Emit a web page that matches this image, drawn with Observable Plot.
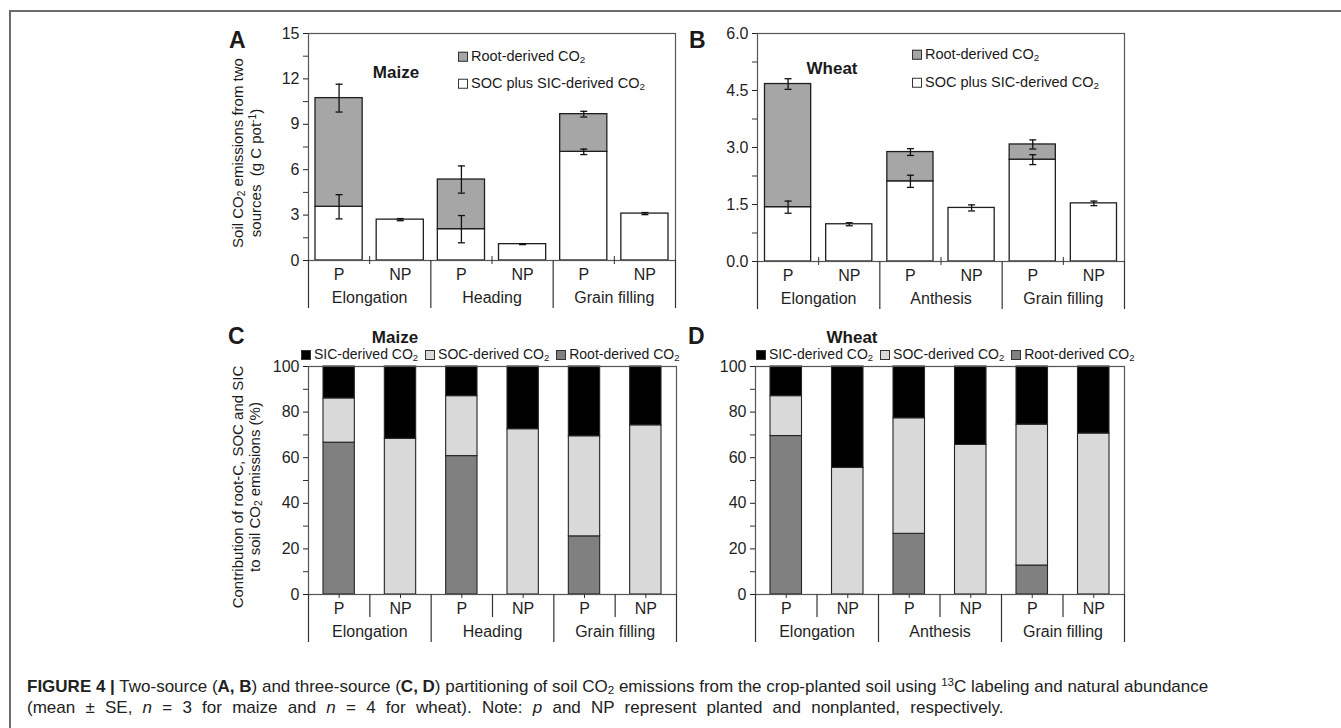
<!DOCTYPE html>
<html><head><meta charset="utf-8">
<script src="https://cdn.jsdelivr.net/npm/d3@7"></script>
<script src="https://cdn.jsdelivr.net/npm/@observablehq/plot@0.6"></script>
<style>
body{margin:0;background:#fff;font-family:"Liberation Sans",Arial,sans-serif;color:#1a1a1a}
#fig{position:relative;width:1341px;height:728px;overflow:hidden;background:#fff}
#border{position:absolute;left:9px;top:10px;width:1400px;height:800px;border-top:2px solid #6b6b6b;border-left:2px solid #6b6b6b}
.abs{position:absolute;white-space:nowrap;line-height:1}
.letter{font-weight:bold;font-size:23px;transform:translateY(-50%)}
.crop{font-weight:bold;font-size:17px;transform:translate(-50%,-50%)}
.ytitle{font-size:15px;transform:translate(-50%,-50%) rotate(-90deg)}
.leg{font-size:14.5px;transform:translateY(-50%)}
.leg2{font-size:14px;transform:translateY(-50%);display:flex;gap:7px;align-items:center}
.sw{display:inline-block;width:8px;height:8px;border:1px solid #333;margin-right:3px;vertical-align:-1px}
sub{font-size:0.68em;vertical-align:-0.22em;line-height:0}
sup{font-size:0.68em;vertical-align:0.45em;line-height:0}
.cap{font-size:17px;color:#222;transform:translateY(-50%)}
</style>
</head><body>
<div id="fig"><div id="border"></div></div>
<script>
// ---------- data ----------
const treatments = ["P", "NP"];
const maizeStages = ["Elongation", "Heading", "Grain filling"];
const wheatStages = ["Elongation", "Anthesis", "Grain filling"];

// Two-source partitioning (g C pot-1); order: Elongation P, NP, stage2 P, NP, Grain filling P, NP
const maizeSocSic   = [3.55, 2.70, 2.07, 1.08, 7.18, 3.10];
const maizeSocSicSE = [0.80, 0.07, 0.90, 0.03, 0.18, 0.07];
const maizeRoot     = [7.18, 0, 3.28, 0, 2.49, 0];
const maizeTotalSE  = [0.92, 0, 0.90, 0, 0.19, 0];

const wheatSocSic   = [1.43, 0.98, 2.11, 1.41, 2.68, 1.53];
const wheatSocSicSE = [0.16, 0.04, 0.16, 0.08, 0.13, 0.06];
const wheatRoot     = [3.24, 0, 0.77, 0, 0.40, 0];
const wheatTotalSE  = [0.14, 0, 0.09, 0, 0.12, 0];

// Three-source partitioning (%)
const maizeRootPct = [66.6, 0, 60.7, 0, 25.5, 0];
const maizeSocPct  = [19.4, 68.3, 26.3, 72.5, 43.9, 74.2];
const maizeSicPct  = [14.0, 31.7, 13.0, 27.5, 30.6, 25.8];
const wheatRootPct = [69.5, 0, 26.6, 0, 12.7, 0];
const wheatSocPct  = [17.5, 55.5, 50.7, 65.6, 61.8, 70.6];
const wheatSicPct  = [13.0, 44.5, 22.7, 34.4, 25.5, 29.4];

const yTicksA = [0, 3, 6, 9, 12, 15];
const yTicksB = [0, 1.5, 3, 4.5, 6];
const yTicksPct = [0, 20, 40, 60, 80, 100];

// ---------- helpers ----------
const fig = document.getElementById("fig");
const ML = 60, MR = 10, MT = 10, MB = 60;
const INK = "#1f1f1f";
const hline = {draw(ctx, size) { const w = Math.sqrt(size / Math.PI); ctx.moveTo(-w, 0); ctx.lineTo(w, 0); }};

function minorsOf(t) { return t.slice(0, -1).map((v, k) => (v + t[k + 1]) / 2); }

function categoryMarks(stages, innerH, kind) {
  const slots = d3.range(6).map(i => ({i, trt: treatments[i % 2]}));
  const groups = stages.map((s, k) => ({k, s}));
  const m = [
    Plot.text(slots, {x: d => d.i + 0.5, text: "trt", frameAnchor: "bottom", dy: 19, fontSize: 16, fill: INK}),
    Plot.text(groups, {x: d => 2 * d.k + 1, text: "s", frameAnchor: "bottom", dy: 42, fontSize: 16, fill: INK}),
    Plot.ruleX([0, 2, 4, 6], {insetTop: innerH, insetBottom: -48, stroke: "#333", strokeWidth: 1.2})
  ];
  if (kind === "two") {
    m.push(Plot.ruleX([1, 3, 5], {insetTop: innerH - 4, insetBottom: -4, stroke: "#333"}));
  } else {
    m.push(Plot.ruleX([1, 3, 5], {insetTop: innerH, insetBottom: -23, stroke: "#333", strokeWidth: 1.2}));
    m.push(Plot.ruleX(d3.range(6).map(i => i + 0.5), {insetTop: innerH, insetBottom: -4, stroke: "#333"}));
  }
  return m;
}

function yAxisMarks(ticks, innerW) {
  return [Plot.ruleY(minorsOf(ticks), {insetLeft: -5, insetRight: innerW, stroke: "#333"})];
}

function place(svg, left, top) {
  svg.style.position = "absolute";
  svg.style.left = (left - ML) + "px";
  svg.style.top = (top - MT) + "px";
  svg.style.overflow = "visible";
  fig.appendChild(svg);
}

function twoSource(o) {
  const innerW = o.right - o.left, innerH = o.bottom - o.top;
  const idx = d3.range(6);
  const soc = idx.map(i => ({i, y1: 0, y2: o.soc[i]}));
  const root = idx.filter(i => o.root[i] > 0).map(i => ({i, y1: o.soc[i], y2: o.soc[i] + o.root[i]}));
  const errs = [];
  idx.forEach(i => {
    errs.push({i, y: o.soc[i], se: o.socSE[i]});
    if (o.root[i] > 0) errs.push({i, y: o.soc[i] + o.root[i], se: o.totSE[i]});
  });
  const caps = errs.flatMap(d => [{i: d.i, y: d.y - d.se}, {i: d.i, y: d.y + d.se}]);
  const svg = Plot.plot({
    width: ML + innerW + MR, height: MT + innerH + MB,
    marginLeft: ML, marginRight: MR, marginTop: MT, marginBottom: MB,
    style: {fontFamily: "Liberation Sans, Arial, sans-serif", fontSize: "16px", color: INK, background: "transparent"},
    x: {domain: [0, 6], axis: null},
    y: {domain: [0, o.ticks[o.ticks.length - 1]], ticks: o.ticks, tickFormat: o.fmt, tickSize: 5, tickPadding: 4, label: null},
    marks: [
      Plot.rectY(soc, {x1: d => d.i, x2: d => d.i + 1, y1: "y1", y2: "y2", fill: "white", stroke: INK, strokeWidth: 1.3, insetLeft: o.inset, insetRight: o.inset}),
      Plot.rectY(root, {x1: d => d.i, x2: d => d.i + 1, y1: "y1", y2: "y2", fill: "#a6a6a6", stroke: INK, strokeWidth: 1.3, insetLeft: o.inset, insetRight: o.inset}),
      Plot.ruleX(errs, {x: d => d.i + 0.5, y1: d => d.y - d.se, y2: d => d.y + d.se, stroke: "#111", strokeWidth: 1.3}),
      Plot.dot(caps, {x: d => d.i + 0.5, y: "y", symbol: hline, r: 3.5, stroke: "#111", strokeWidth: 1.3}),
      Plot.frame({stroke: "#555", strokeWidth: 1.2}),
      ...yAxisMarks(o.ticks, innerW),
      ...categoryMarks(o.stages, innerH, "two")
    ]
  });
  place(svg, o.left, o.top);
}

function threeSource(o) {
  const innerW = o.right - o.left, innerH = o.bottom - o.top;
  const idx = d3.range(6);
  const layers = [
    {vals: o.root, fill: "#808080", base: i => 0},
    {vals: o.socP, fill: "#d9d9d9", base: i => o.root[i]},
    {vals: o.sic, fill: "#000000", base: i => o.root[i] + o.socP[i]}
  ];
  const rects = layers.map(L => Plot.rectY(
    idx.filter(i => L.vals[i] > 0).map(i => ({i, y1: L.base(i), y2: L.base(i) + L.vals[i]})),
    {x1: d => d.i, x2: d => d.i + 1, y1: "y1", y2: "y2", fill: L.fill, stroke: "#262626", strokeWidth: 1.1, insetLeft: o.inset, insetRight: o.inset}
  ));
  const svg = Plot.plot({
    width: ML + innerW + MR, height: MT + innerH + MB,
    marginLeft: ML, marginRight: MR, marginTop: MT, marginBottom: MB,
    style: {fontFamily: "Liberation Sans, Arial, sans-serif", fontSize: "16px", color: INK, background: "transparent"},
    x: {domain: [0, 6], axis: null},
    y: {domain: [0, 100], ticks: yTicksPct, tickSize: 5, tickPadding: 4, label: null},
    marks: [
      ...rects,
      Plot.frame({stroke: "#555", strokeWidth: 1.2}),
      ...yAxisMarks(yTicksPct, innerW),
      ...categoryMarks(o.stages, innerH, "three")
    ]
  });
  place(svg, o.left, o.top);
}

// ---------- panels ----------
twoSource({stages: maizeStages, soc: maizeSocSic, socSE: maizeSocSicSE, root: maizeRoot, totSE: maizeTotalSE,
  ticks: yTicksA, fmt: d => d.toFixed(0), left: 308, right: 675, top: 33, bottom: 260, inset: 7});
twoSource({stages: wheatStages, soc: wheatSocSic, socSE: wheatSocSicSE, root: wheatRoot, totSE: wheatTotalSE,
  ticks: yTicksB, fmt: d => d.toFixed(1), left: 757, right: 1124, top: 33, bottom: 261, inset: 7.5});
threeSource({stages: maizeStages, root: maizeRootPct, socP: maizeSocPct, sic: maizeSicPct,
  left: 308, right: 676, top: 366, bottom: 594, inset: 15});
threeSource({stages: wheatStages, root: wheatRootPct, socP: wheatSocPct, sic: wheatSicPct,
  left: 755, right: 1124, top: 366, bottom: 594, inset: 15});

// ---------- text overlays ----------
const html = `
<div class="abs letter" style="left:229px;top:40px">A</div>
<div class="abs letter" style="left:689px;top:40px">B</div>
<div class="abs letter" style="left:228px;top:336px">C</div>
<div class="abs letter" style="left:688px;top:336px">D</div>

<div class="abs crop" style="left:396px;top:72px">Maize</div>
<div class="abs crop" style="left:832px;top:68px">Wheat</div>
<div class="abs crop" style="left:395px;top:337px">Maize</div>
<div class="abs crop" style="left:852px;top:337px">Wheat</div>

<div class="abs ytitle" style="left:237px;top:153px">Soil CO<sub>2</sub> emissions from two</div>
<div class="abs ytitle" style="left:255px;top:173px">sources&nbsp; (g C pot<sup>-1</sup>)</div>
<div class="abs ytitle" style="left:237px;top:487px">Contribution of root-C, SOC and SIC</div>
<div class="abs ytitle" style="left:254px;top:487px">to soil CO<sub>2</sub> emissions (%)</div>

<div class="abs leg" style="left:458px;top:56px"><span class="sw" style="background:#a6a6a6"></span>Root-derived CO<sub>2</sub></div>
<div class="abs leg" style="left:458px;top:83px"><span class="sw" style="background:#fff"></span>SOC plus SIC-derived CO<sub>2</sub></div>
<div class="abs leg" style="left:912px;top:54px"><span class="sw" style="background:#a6a6a6"></span>Root-derived CO<sub>2</sub></div>
<div class="abs leg" style="left:912px;top:82px"><span class="sw" style="background:#fff"></span>SOC plus SIC-derived CO<sub>2</sub></div>

<div class="abs leg2" style="left:301px;top:354px"><span><span class="sw" style="background:#000"></span>SIC-derived CO<sub>2</sub></span><span><span class="sw" style="background:#d9d9d9"></span>SOC-derived CO<sub>2</sub></span><span><span class="sw" style="background:#808080"></span>Root-derived CO<sub>2</sub></span></div>
<div class="abs leg2" style="left:756px;top:354px"><span><span class="sw" style="background:#000"></span>SIC-derived CO<sub>2</sub></span><span><span class="sw" style="background:#d9d9d9"></span>SOC-derived CO<sub>2</sub></span><span><span class="sw" style="background:#808080"></span>Root-derived CO<sub>2</sub></span></div>

<div class="abs cap" style="left:27px;top:686px"><b>FIGURE 4 |</b> Two-source (<b>A, B</b>) and three-source (<b>C, D</b>) partitioning of soil CO<sub>2</sub> emissions from the crop-planted soil using <sup>13</sup>C labeling and natural abundance</div>
<div class="abs cap" style="left:27px;top:707px;word-spacing:5.5px">(mean ± SE, <i>n</i> = 3 for maize and <i>n</i> = 4 for wheat). Note: <i>p</i> and NP represent planted and nonplanted, respectively.</div>
`;
fig.insertAdjacentHTML("beforeend", html);
</script>
</body></html>
